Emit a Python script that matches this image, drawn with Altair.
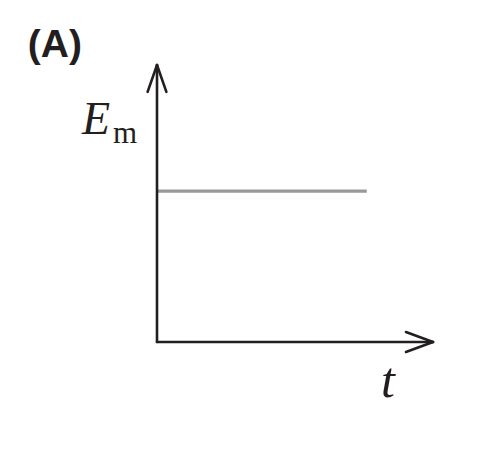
import altair as alt
import pandas as pd

# constant mechanical energy over time
t_values = [0.0, 7.6]
em_values = [5.45, 5.45]

# axis extents (data units)
x_max = 10.0
y_max = 10.0

line_df = pd.DataFrame({"t": t_values, "Em": em_values})

# axes with open arrow heads
seg_x = [0, 0, x_max, x_max, 0, 0]
seg_y = [0, 0, 0, 0, y_max, y_max]
seg_x2 = [x_max, 0, x_max - 0.98, x_max - 0.98, -0.34, 0.34]
seg_y2 = [0, y_max, 0.36, -0.36, y_max - 0.97, y_max - 0.97]
axes_df = pd.DataFrame({"x": seg_x, "y": seg_y, "x2": seg_x2, "y2": seg_y2})

xs = alt.Scale(domain=[0, x_max], nice=False, zero=False)
ys = alt.Scale(domain=[0, y_max], nice=False, zero=False)

axes = alt.Chart(axes_df).mark_rule(color="#231f20", strokeWidth=2.6, strokeCap="round").encode(
    x=alt.X("x:Q", scale=xs, axis=None),
    y=alt.Y("y:Q", scale=ys, axis=None),
    x2="x2:Q",
    y2="y2:Q",
)

energy = alt.Chart(line_df).mark_line(color="#999999", strokeWidth=3.2).encode(
    x=alt.X("t:Q", scale=xs, axis=None),
    y=alt.Y("Em:Q", scale=ys, axis=None),
)

labels_df = pd.DataFrame({
    "x": [-2.72, -1.59, 8.12],
    "y": [7.51, 7.18, -1.99],
    "text": ["E", "m", "t"],
    "size": [46, 31, 50],
    "style": ["italic", "normal", "italic"],
})

def label(i):
    row = labels_df.iloc[[i]]
    return alt.Chart(row).mark_text(
        font="Liberation Serif",
        fontSize=int(row["size"].iloc[0]),
        fontStyle=row["style"].iloc[0],
        align="left",
        baseline="alphabetic",
        color="#231f20",
    ).encode(
        x=alt.X("x:Q", scale=xs, axis=None),
        y=alt.Y("y:Q", scale=ys, axis=None),
        text="text:N",
    )

panel_df = pd.DataFrame({"x": [-4.68], "y": [10.29], "text": ["(A)"]})
panel = alt.Chart(panel_df).mark_text(
    font="Liberation Sans", fontSize=39, fontWeight="bold",
    align="left", baseline="alphabetic", color="#231f20",
).encode(
    x=alt.X("x:Q", scale=xs, axis=None),
    y=alt.Y("y:Q", scale=ys, axis=None),
    text="text:N",
)

chart = alt.layer(energy, axes, label(0), label(1), label(2), panel).properties(
    width=276,
    height=277,
    autosize=alt.AutoSizeParams(type="none"),
    padding={"left": 149, "top": 57, "right": 43, "bottom": 109},
).configure_view(stroke=None)

chart.save("out.html", embed_options={"renderer": "svg", "actions": False})
